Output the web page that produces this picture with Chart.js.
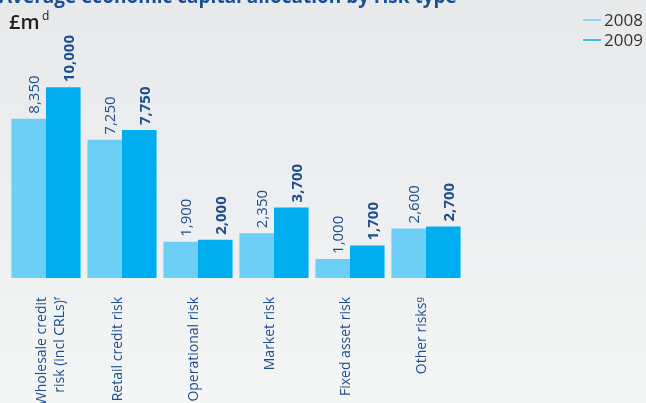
<!DOCTYPE html>
<html>
<head>
<meta charset="utf-8">
<script src="https://cdn.jsdelivr.net/npm/chart.js@4"></script>
<style>
  html, body { margin: 0; padding: 0; }
  body {
    width: 646px; height: 403px; overflow: hidden;
    background: linear-gradient(to bottom, #e8e9eb 0%, #eeeff0 55%, #f4f5f5 100%);
  }
  #wrap { position: relative; width: 646px; height: 403px; }
</style>
</head>
<body>
<div id="wrap"><canvas id="capChart" width="646" height="403"></canvas></div>
<script>
// Chart data
const categories = [
  ['Wholesale credit', 'risk (incl CRLs)\u1DA0'],
  'Retail credit risk',
  'Operational risk',
  'Market risk',
  'Fixed asset risk',
  'Other risks\u1D4D'
];
const values2008 = [8350, 7250, 1900, 2350, 1000, 2600];
const values2009 = [10000, 7750, 2000, 3700, 1700, 2700];
const seriesLabels = ['2008', '2009'];

const labelBlue = '#1d4f8c';
const font = '"Open Sans", "Noto Sans", sans-serif';

// Rotated value labels sitting on top of each bar
const valueLabels = {
  id: 'valueLabels',
  afterDatasetsDraw(chart) {
    const ctx = chart.ctx;
    chart.data.datasets.forEach((ds, i) => {
      const meta = chart.getDatasetMeta(i);
      meta.data.forEach((bar, j) => {
        ctx.save();
        ctx.translate(bar.x + 6, bar.y - 5);
        ctx.rotate(-Math.PI / 2);
        ctx.font = (i === 1 ? 'bold ' : '') + '15px ' + font;
        ctx.fillStyle = labelBlue;
        ctx.textAlign = 'left';
        ctx.textBaseline = 'middle';
        ctx.fillText(ds.data[j].toLocaleString('en-GB'), 0, 0);
        ctx.restore();
      });
    });
  }
};

// Title, unit and legend
const headings = {
  id: 'headings',
  afterDraw(chart) {
    const ctx = chart.ctx;
    ctx.save();
    ctx.fillStyle = '#1a4f96';
    ctx.font = 'bold 19px ' + font;
    ctx.textBaseline = 'alphabetic';
    ctx.textAlign = 'left';
    ctx.fillText('Average economic capital allocation by risk type', -1, 3);

    ctx.fillStyle = '#222';
    ctx.font = '600 20px ' + font;
    ctx.fillText('£m', 9, 29);
    ctx.font = '12px ' + font;
    ctx.fillText('d', 42, 20);

    chart.data.datasets.forEach((ds, i) => {
      const y = 20 + i * 20;
      ctx.strokeStyle = ds.backgroundColor;
      ctx.lineWidth = 1.5;
      ctx.beginPath();
      ctx.moveTo(583, y);
      ctx.lineTo(601, y);
      ctx.stroke();
      ctx.fillStyle = '#333';
      ctx.font = '17px ' + font;
      ctx.textBaseline = 'middle';
      ctx.fillText(ds.label, 604, y + 1);
    });
    ctx.restore();
  }
};

new Chart(document.getElementById('capChart'), {
  type: 'bar',
  data: {
    labels: categories,
    datasets: [
      { label: seriesLabels[0], data: values2008, backgroundColor: '#6dcff6' },
      { label: seriesLabels[1], data: values2009, backgroundColor: '#00aeef' }
    ]
  },
  options: {
    responsive: false,
    animation: false,
    layout: { padding: { left: 8, right: 182, top: 49, bottom: 0 } },
    datasets: { bar: { categoryPercentage: 0.91, barPercentage: 1.0 } },
    plugins: { legend: { display: false }, tooltip: { enabled: false } },
    scales: {
      y: { display: false, min: 0, max: 12000 },
      x: {
        grid: { display: false },
        border: { display: false },
        afterFit(scale) { scale.height = 125; },
        ticks: {
          autoSkip: false,
          minRotation: 90,
          maxRotation: 90,
          padding: 11,
          labelOffset: -4,
          color: labelBlue,
          font: { family: font, size: 14, lineHeight: 1.3 }
        }
      }
    }
  },
  plugins: [valueLabels, headings]
});
</script>
</body>
</html>
